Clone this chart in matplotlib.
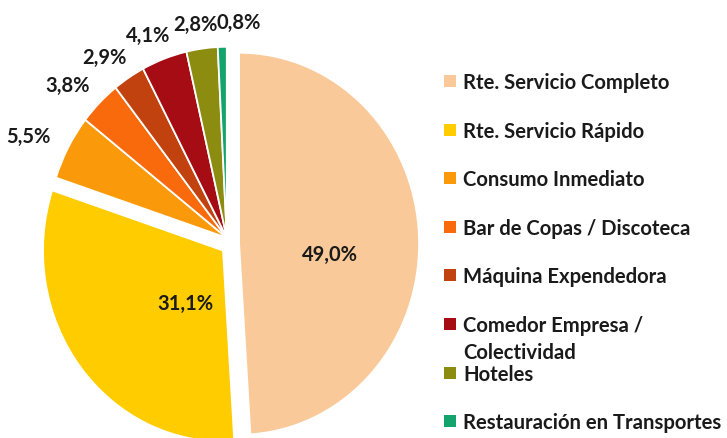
import numpy as np
import matplotlib
matplotlib.use("Agg")
import matplotlib.pyplot as plt

categories = ["Rte. Servicio Completo", "Rte. Servicio Rápido", "Consumo Inmediato",
              "Bar de Copas / Discoteca", "Máquina Expendedora",
              "Comedor Empresa /\nColectividad", "Hoteles", "Restauración en Transportes"]
values = [49.0, 31.1, 5.5, 3.8, 2.9, 4.1, 2.8, 0.8]
pct_labels = ["49,0%", "31,1%", "5,5%", "3,8%", "2,9%", "4,1%", "2,8%", "0,8%"]
colors = ["#FAC99A", "#FFCC00", "#FA9A0A", "#F96A0C", "#C1420F", "#A60C14", "#8C8C10", "#12A46C"]

W, H = 727, 439
fig = plt.figure(figsize=(W / 100, H / 100), dpi=100)
fig.patch.set_facecolor("white")
ax = fig.add_axes([0, 0, 1, 1])
plt.rcParams['font.family'] = ['Lato', 'DejaVu Sans']
FONT = ['Lato', 'DejaVu Sans']

explode = [0.045, 0.056, 0, 0, 0, 0, 0, 0]
wedges, _ = ax.pie(values, explode=explode, colors=colors, startangle=90,
                   counterclock=False, radius=1.0,
                   wedgeprops=dict(edgecolor="white", linewidth=1.3))

# group the small slices and pull them out together
tot = sum(values)
cum = np.cumsum([0] + values) / tot
mids = 90 - 360 * (cum[:-1] + cum[1:]) / 2
g_mid = 90 - 360 * (cum[2] + 1.0) / 2
g_off = 0.04
gc = (g_off * np.cos(np.radians(g_mid)), g_off * np.sin(np.radians(g_mid)))
for w in wedges[2:]:
    w.set_center(gc)

ax.set_aspect("auto")
ax.set_xlim(-231 / 180, (W - 231) / 180)
ax.set_ylim(-(H - 245) / 191, 245 / 191)
ax.axis("off")

# percentage labels
inner_offsets = {0: (0.506, -0.052), 1: (-0.211, -0.277)}  # offsets from wedge apex
lab_rx, lab_ry = 1.25, 1.13
for i, (lab, m) in enumerate(zip(pct_labels, mids)):
    th = np.radians(m)
    if i in inner_offsets:
        c = wedges[i].center
        dx, dy = inner_offsets[i]
        x, y = c[0] + dx, c[1] + dy
    else:
        x, y = gc[0] + lab_rx * np.cos(th), gc[1] + lab_ry * np.sin(th)
        if i == 7:
            x += 0.095
    ax.text(x, y, lab, ha="center", va="center", fontsize=14.5, fontweight="bold",
            color="#1a1a1a", family=FONT)

# legend
def fx(x):
    return x / W

def fy(y):
    return 1 - y / H

row0, step = 82, 48.6
for i, (cat, col) in enumerate(zip(categories, colors)):
    yc = row0 + i * step
    fig.add_artist(plt.Rectangle((fx(444), fy(yc + 6)), 12 / W, 12 / H,
                                 transform=fig.transFigure, color=col, lw=0))
    for j, line in enumerate(cat.split("\n")):
        fig.text(fx(463), fy(yc + 7 + j * 27), line, ha="left", va="baseline",
                 fontsize=14.6, fontweight="bold", color="#1a1a1a", family=FONT)

fig.savefig("out.png", dpi=100, facecolor="white")
